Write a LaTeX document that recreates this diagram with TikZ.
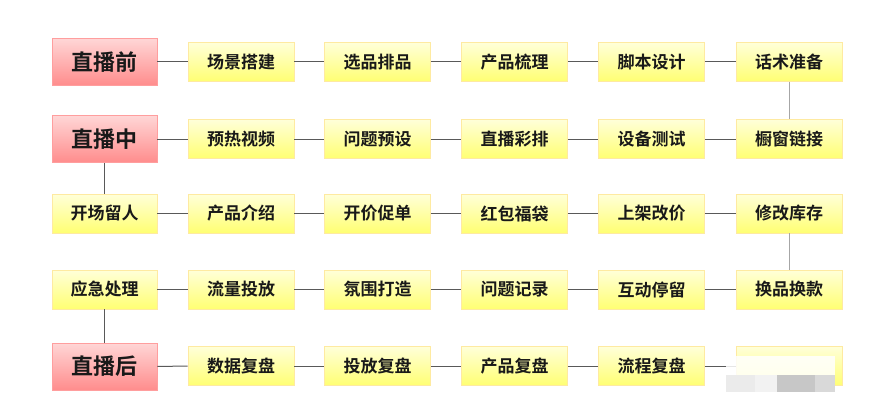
\documentclass[tikz,border=0pt]{standalone}
\usepackage{fontspec}
\newfontfamily\cjk{Noto Sans CJK SC Bold}
\begin{document}
\begin{tikzpicture}[x=1pt,y=-1pt,
  redbox/.style={draw=red!30!pink!80!white, line width=0.6pt, top color=red!16!white, bottom color=red!45!white, minimum width=105pt, minimum height=47pt, inner sep=0pt, font=\cjk\fontsize{22}{22}\selectfont, text=black!90},
  yelbox/.style={draw=yellow!60!orange!35!white, line width=0.6pt, top color=yellow!15!white, bottom color=yellow!55!white, minimum width=106pt, minimum height=39pt, inner sep=0pt, font=\cjk\fontsize{17}{17}\selectfont, text=black!90},
  link/.style={draw=black!65, line width=1pt},
  softlink/.style={draw=black!35, line width=0.8pt}]
\useasboundingbox (0,0) rectangle (884,412);
\fill[white] (0,0) rectangle (884,412);
% row 1
\node[redbox] (r1c1) at (104.5,62) {直播前};
\node[yelbox] (r1c2) at (241,62) {场景搭建};
\node[yelbox] (r1c3) at (377.5,62) {选品排品};
\node[yelbox] (r1c4) at (514.5,62) {产品梳理};
\node[yelbox] (r1c5) at (651.5,62) {脚本设计};
\node[yelbox] (r1c6) at (789,62) {话术准备};
% row 2
\node[redbox] (r2c1) at (104.5,139) {直播中};
\node[yelbox] (r2c2) at (241,139) {预热视频};
\node[yelbox] (r2c3) at (377.5,139) {问题预设};
\node[yelbox] (r2c4) at (514.5,139) {直播彩排};
\node[yelbox] (r2c5) at (651.5,139) {设备测试};
\node[yelbox] (r2c6) at (789,139) {橱窗链接};
% row 3
\node[yelbox, minimum width=105pt] (r3c1) at (104.5,213.5) {开场留人};
\node[yelbox] (r3c2) at (241,213.5) {产品介绍};
\node[yelbox] (r3c3) at (377.5,213.5) {开价促单};
\node[yelbox] (r3c4) at (514.5,213.5) {红包福袋};
\node[yelbox] (r3c5) at (651.5,213.5) {上架改价};
\node[yelbox] (r3c6) at (789,213.5) {修改库存};
% row 4
\node[yelbox, minimum width=105pt] (r4c1) at (104.5,289.5) {应急处理};
\node[yelbox] (r4c2) at (241,289.5) {流量投放};
\node[yelbox] (r4c3) at (377.5,289.5) {氛围打造};
\node[yelbox] (r4c4) at (514.5,289.5) {问题记录};
\node[yelbox] (r4c5) at (651.5,289.5) {互动停留};
\node[yelbox] (r4c6) at (789,289.5) {换品换款};
% row 5
\node[redbox] (r5c1) at (104.5,366.5) {直播后};
\node[yelbox] (r5c2) at (241,366) {数据复盘};
\node[yelbox] (r5c3) at (377.5,366) {投放复盘};
\node[yelbox] (r5c4) at (514.5,366) {产品复盘};
\node[yelbox] (r5c5) at (651.5,366) {流程复盘};
\node[yelbox] (r5c6) at (789,366) {};
% horizontal connectors
\foreach \r in {1,...,5}{
  \foreach \a/\b in {1/2,2/3,3/4,4/5,5/6}{
    \draw[link] (r\r c\a.east) -- (r\r c\b.west);
  }
}
% vertical connectors
\draw[softlink] (r1c6.south) -- (r2c6.north);
\draw[link] (r2c1.south) -- (r3c1.north);
\draw[softlink] (r3c6.south) -- (r4c6.north);
\draw[link] (r4c1.south) -- (r5c1.north);
% watermark blur over last box
\fill[white, opacity=0.85] (726,356) rectangle (835,392);
\fill[black!8] (726,375) rectangle (755,392);
\fill[black!22] (777,375) rectangle (815,392);
\fill[black!15] (815,375) rectangle (835,392);
\fill[black!5] (755,375) rectangle (777,392);
\end{tikzpicture}
\end{document}
